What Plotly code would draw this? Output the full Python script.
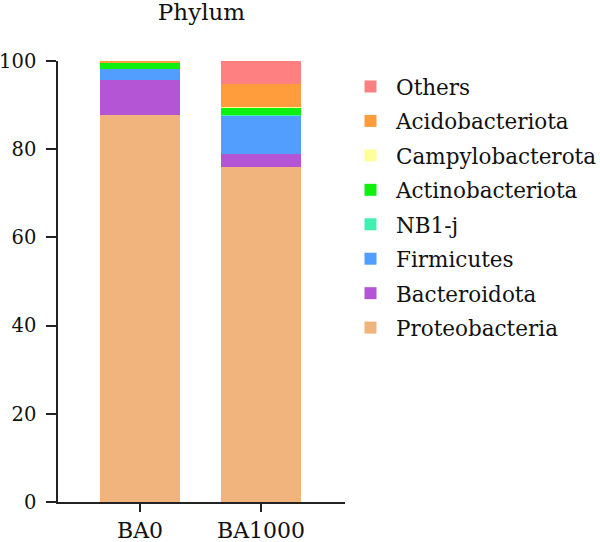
import plotly.graph_objects as go

samples = ["BA0", "BA1000"]
taxa = ["Proteobacteria", "Bacteroidota", "Firmicutes", "NB1-j",
        "Actinobacteriota", "Campylobacterota", "Acidobacteriota", "Others"]
proteobacteria = [87.8, 76.0]
bacteroidota = [7.9, 2.8]
firmicutes = [2.5, 8.9]
nb1j = [0.1, 0.1]
actinobacteriota = [1.4, 1.6]
campylobacterota = [0.0, 0.1]
acidobacteriota = [0.3, 5.2]
others = [0.0, 5.3]
values = [proteobacteria, bacteroidota, firmicutes, nb1j,
          actinobacteriota, campylobacterota, acidobacteriota, others]
colors = ["#F0B47C", "#B455D6", "#529EFF", "#40F0B0",
          "#10F010", "#FFFF99", "#FF9D3D", "#FF8080"]
yticks = [0, 20, 40, 60, 80, 100]

FONT = "DejaVu Serif"

fig = go.Figure()
n = len(taxa)
for i, (name, vals, col) in enumerate(zip(taxa, values, colors)):
    fig.add_trace(go.Bar(x=samples, y=vals, name=name, legendgroup=name,
                         legendrank=n - i,
                         marker=dict(color=col, line=dict(width=0))))

fig.update_layout(
    barmode="stack",
    bargap=0.34,
    width=600, height=542,
    margin=dict(l=58, r=255, t=61, b=40, autoexpand=False),
    paper_bgcolor="white", plot_bgcolor="white",
    font=dict(family=FONT, size=21, color="#111"),
    title=dict(text="Phylum", x=(58 + 345) / 2 / 600, xanchor="center",
               y=1 - 12 / 542, yanchor="middle", font=dict(size=23)),
    legend=dict(traceorder="grouped", tracegroupgap=3.5, itemwidth=41,
                xref="container", x=345 / 600, xanchor="left",
                yref="container", y=1 - 66 / 542, yanchor="top",
                maxheight=520,
                font=dict(size=21.5, family=FONT)),
    xaxis=dict(range=[-0.678, 1.694], showline=True, linecolor="#222",
               linewidth=1.5, ticks="outside", ticklen=8, tickwidth=1.5,
               tickcolor="#222", showgrid=False, automargin=False,
               tickfont=dict(size=22)),
    yaxis=dict(range=[0, 100], tickvals=yticks, showline=True, linecolor="#222",
               linewidth=1.5, ticks="outside", ticklen=10, tickwidth=1.5,
               tickcolor="#222", showgrid=False, zeroline=False,
               automargin=False, ticklabelstandoff=6,
               tickfont=dict(size=19.5)),
)

fig.write_html("out.html")
